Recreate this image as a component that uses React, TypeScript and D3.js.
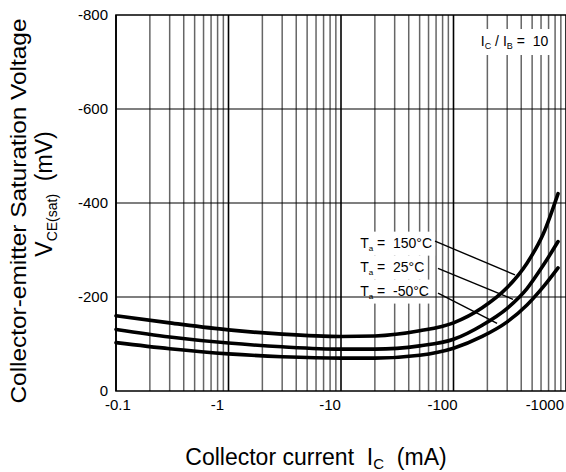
import React, { useEffect, useRef } from "react";
import * as d3 from "d3";

// collector current (mA) and VCE(sat) (mV)
const currentMA = [-0.1, -0.3, -1, -3, -10, -20, -50, -100, -180, -300, -450, -630, -850];
const vce150 = [-160, -145, -130, -121, -116, -117, -128, -145, -177, -220, -272, -335, -420];
const vce25 = [-131, -115, -102, -94, -89, -89, -96, -110, -140, -176, -218, -268, -318];
const vceM50 = [-103, -90, -79, -73, -70, -70, -76, -91, -116, -147, -183, -222, -262];

const yTicks = [0, -200, -400, -600, -800];
const xTickLabels = [-0.1, -1, -10, -100, -1000];

// annotations, in data units
const tempLabels = ["150°C", "25°C", "-50°C"];
const labelAnchor: [number, number][] = [
  [-14.8, -305],
  [-14.8, -254],
  [-14.8, -203],
];
const leaderFrom: [number, number][] = [
  [-68.5, -319],
  [-72.8, -261],
  [-72.8, -208],
];
const leaderTo: [number, number][] = [
  [-352, -247],
  [-338, -195],
  [-244, -144],
];
const ratioAnchor: [number, number] = [-175, -734];

const series = [vce150, vce25, vceM50];

const W = 566;
const H = 472;
const FONT = "'Liberation Sans', Arial, Helvetica, sans-serif";

const App: React.FC = () => {
  const svgRef = useRef<SVGSVGElement>(null);

  useEffect(() => {
    if (!svgRef.current) return;
    const svg = d3.select(svgRef.current);
    svg.selectAll("*").remove();

    const margin = { top: 15, right: 0, bottom: 81, left: 116 };
    const x = d3
      .scaleLog()
      .domain([-0.1, -1000])
      .range([margin.left, W - margin.right]);
    const y = d3
      .scaleLinear()
      .domain([0, -800])
      .range([H - margin.bottom, margin.top]);

    const [x0, x1] = x.range();
    const [yb, yt] = y.range();

    const isDecade = (v: number) => {
      const l = Math.log10(Math.abs(v));
      return Math.abs(l - Math.round(l)) < 1e-6;
    };

    // vertical log grid
    const vgrid = svg.append("g");
    vgrid
      .selectAll("line")
      .data(x.ticks())
      .enter()
      .append("line")
      .attr("x1", (d) => x(d))
      .attr("x2", (d) => x(d))
      .attr("y1", yt)
      .attr("y2", yb)
      .attr("stroke", (d) => (isDecade(d) ? "#000" : "#666"))
      .attr("stroke-width", (d) => (isDecade(d) ? 1.6 : 1.5));

    const bgLayer = svg.append("g");

    // horizontal grid
    svg
      .append("g")
      .selectAll("line")
      .data(yTicks.slice(1, -1))
      .enter()
      .append("line")
      .attr("x1", x0)
      .attr("x2", x1)
      .attr("y1", (d) => y(d))
      .attr("y2", (d) => y(d))
      .attr("stroke", "#000")
      .attr("stroke-width", 1.1);

    // frame
    svg
      .append("path")
      .attr("d", `M${x1},${yt}H${x0}V${yb}H${x1}`)
      .attr("fill", "none")
      .attr("stroke", "#000")
      .attr("stroke-width", 1.6);

    // curves
    const line = d3
      .line<number>()
      .x((_, i) => x(currentMA[i]))
      .y((d) => y(d))
      .curve(d3.curveMonotoneX);

    svg
      .append("g")
      .selectAll("path")
      .data(series)
      .enter()
      .append("path")
      .attr("d", (d) => line(d))
      .attr("fill", "none")
      .attr("stroke", "#000")
      .attr("stroke-width", 3.6)
      .attr("stroke-linecap", "round");

    // leader lines
    svg
      .append("g")
      .selectAll("line")
      .data(tempLabels)
      .enter()
      .append("line")
      .attr("x1", (_, i) => x(leaderFrom[i][0]))
      .attr("y1", (_, i) => y(leaderFrom[i][1]))
      .attr("x2", (_, i) => x(leaderTo[i][0]))
      .attr("y2", (_, i) => y(leaderTo[i][1]))
      .attr("stroke", "#000")
      .attr("stroke-width", 1.4);

    const subText = (
      t: d3.Selection<SVGTextElement, unknown, null, undefined>,
      main: string,
      sub: string,
      rest: string,
      subSize: number,
      shift: number,
    ) => {
      t.append("tspan").text(main);
      t.append("tspan").attr("dy", shift).style("font-size", `${subSize}px`).text(sub);
      t.append("tspan").attr("dy", -shift).text(rest);
    };

    const addBg = (node: SVGTextElement, pad: number) => {
      const b = node.getBBox();
      bgLayer
        .append("rect")
        .attr("x", b.x - pad)
        .attr("y", b.y - pad)
        .attr("width", b.width + pad * 2)
        .attr("height", b.height + pad * 2)
        .attr("fill", "#fff");
    };

    // temperature labels
    tempLabels.forEach((name, i) => {
      const t = svg
        .append("text")
        .attr("x", x(labelAnchor[i][0]))
        .attr("y", y(labelAnchor[i][1]))
        .style("font-family", FONT)
        .style("font-size", "14px")
        .style("white-space", "pre");
      subText(t as any, "T", "a", " =  " + name, 8, 3);
      addBg(t.node()!, 3);
    });

    // IC / IB = 10
    {
      const t = svg
        .append("text")
        .attr("x", x(ratioAnchor[0]))
        .attr("y", y(ratioAnchor[1]))
        .style("font-family", FONT)
        .style("font-size", "14px")
        .style("white-space", "pre");
      t.append("tspan").text("I");
      t.append("tspan").attr("dy", 3).style("font-size", "9px").text("C");
      t.append("tspan").attr("dy", -3).text(" / I");
      t.append("tspan").attr("dy", 3).style("font-size", "9px").text("B");
      t.append("tspan").attr("dy", -3).text(" =  10");
      addBg(t.node()!, 4);
    }

    // y tick labels
    svg
      .append("g")
      .selectAll("text")
      .data(yTicks)
      .enter()
      .append("text")
      .attr("x", x0 - 8)
      .attr("y", (d) => y(d))
      .attr("dy", "0.36em")
      .attr("text-anchor", "end")
      .style("font-family", FONT)
      .style("font-size", "15px")
      .text((d) => (d === 0 ? "0" : String(d)));

    // x tick labels
    svg
      .append("g")
      .selectAll("text")
      .data(xTickLabels)
      .enter()
      .append("text")
      .attr("x", (d, i) =>
        i === 0 ? x(d) - 11 : i === xTickLabels.length - 1 ? W - 2 : x(d) - 11,
      )
      .attr("y", yb + 19)
      .attr("text-anchor", (_, i) =>
        i === 0 ? "start" : i === xTickLabels.length - 1 ? "end" : "middle",
      )
      .style("font-family", FONT)
      .style("font-size", "15px")
      .text((d) => String(d));

    // x title
    {
      const t = svg
        .append("text")
        .attr("x", 316)
        .attr("y", 465)
        .attr("text-anchor", "middle")
        .style("font-family", FONT)
        .style("font-size", "23px")
        .style("white-space", "pre");
      subText(t as any, "Collector current  I", "C", "  (mA)", 15, 4);
    }

    // y title
    svg
      .append("text")
      .attr("transform", `translate(26,211) rotate(-90)`)
      .attr("text-anchor", "middle")
      .attr("textLength", 385)
      .attr("lengthAdjust", "spacingAndGlyphs")
      .style("font-family", FONT)
      .style("font-size", "22px")
      .text("Collector-emitter Saturation Voltage");

    {
      const t = svg
        .append("text")
        .attr("transform", `translate(52,194) rotate(-90)`)
        .attr("text-anchor", "middle")
        .style("font-family", FONT)
        .style("font-size", "23px")
        .style("white-space", "pre");
      subText(t as any, "V", "CE(sat)", "  (mV)", 14, 5);
    }
  }, []);

  return (
    <div style={{ position: "absolute", left: 0, top: 0, background: "#fff" }}>
      <svg ref={svgRef} width={W} height={H} style={{ display: "block" }} />
    </div>
  );
};

export default App;
